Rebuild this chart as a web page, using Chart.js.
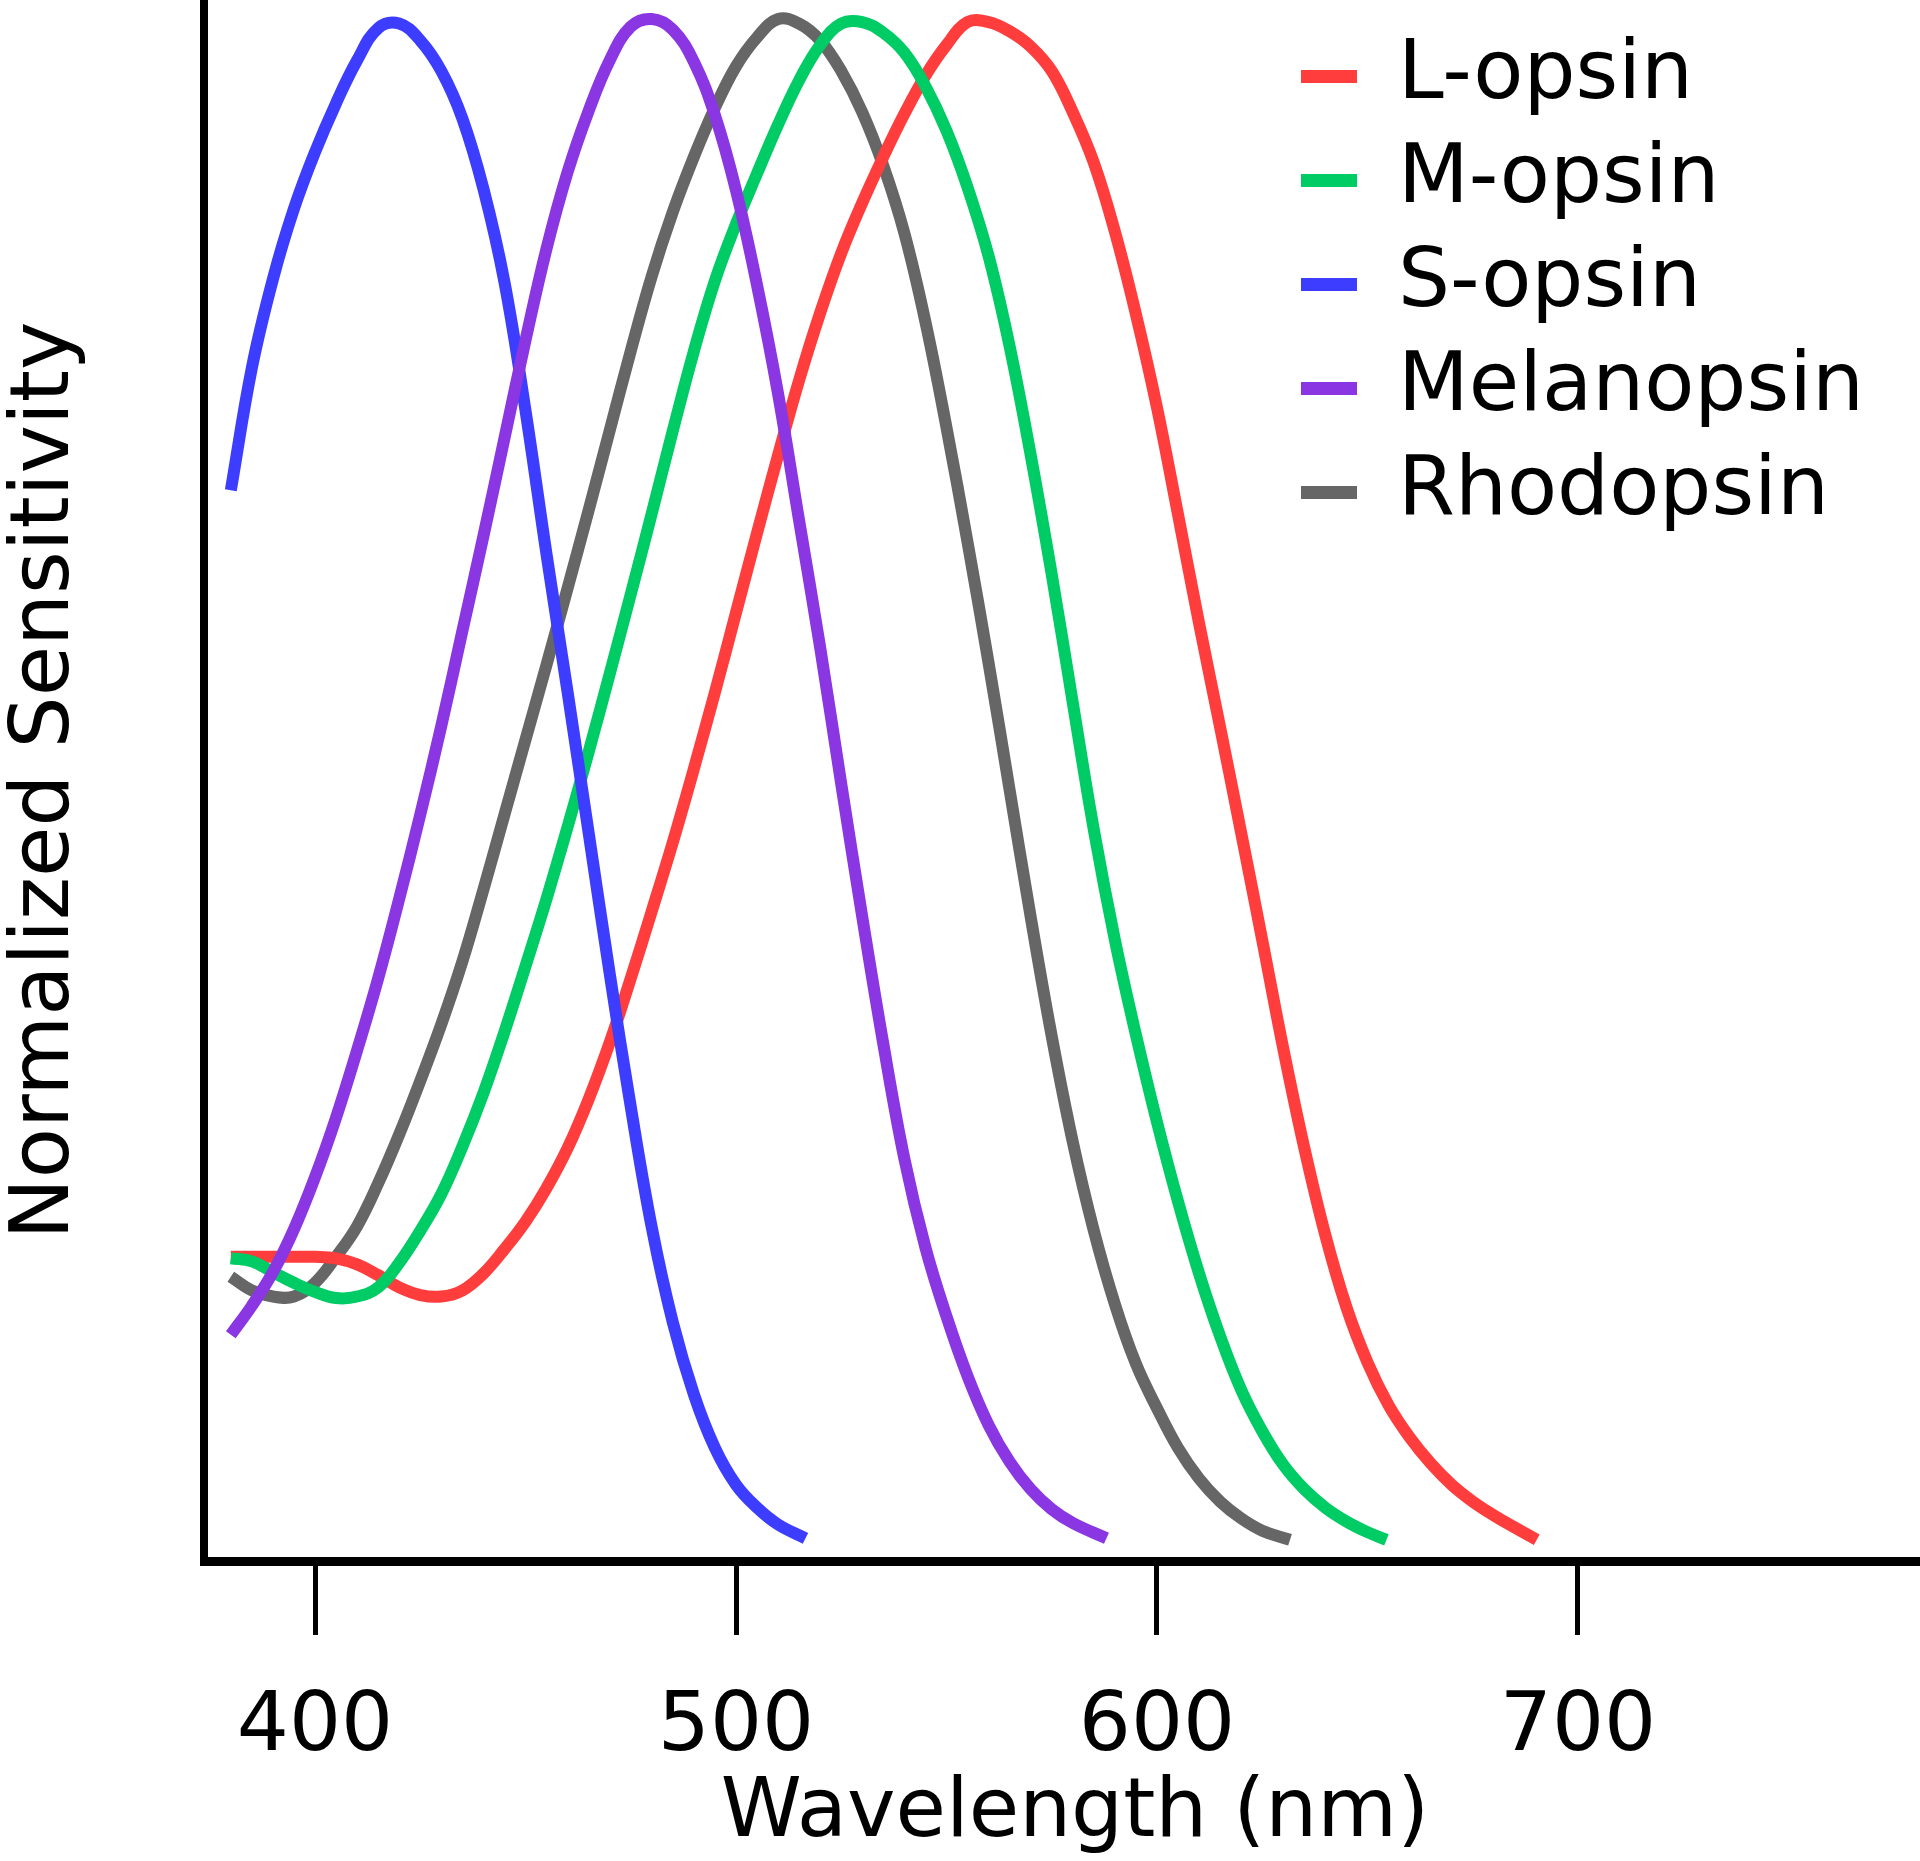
<!DOCTYPE html>
<html><head><meta charset="utf-8">
<style>html,body{margin:0;padding:0;background:#fff;}canvas{display:block;}</style>
<script src="https://cdn.jsdelivr.net/npm/chart.js"></script>
</head><body>
<canvas id="c" width="1920" height="1861" style="width:1920px;height:1861px"></canvas>
<script>
// ---- data ----
const X_TICKS = [400, 500, 600, 700];
const X_TITLE = 'Wavelength (nm)';
const Y_TITLE = 'Normalized Sensitivity';
const SERIES_NAMES = ['L-opsin', 'M-opsin', 'S-opsin', 'Melanopsin', 'Rhodopsin'];

const L_WL  = [380, 385, 390, 395, 400, 405, 410, 415, 420, 425, 430, 435, 440, 445, 450, 455, 460, 465, 470, 475, 480, 485, 490, 495, 500, 505, 510, 515, 520, 525, 530, 535, 540, 545, 550, 555, 560, 565, 570, 575, 580, 585, 590, 595, 600, 605, 610, 615, 620, 625, 630, 635, 640, 645, 650, 655, 660, 665, 670, 675, 680, 685, 690.2];
const L_VAL = [0.191, 0.191, 0.191, 0.191, 0.191, 0.190, 0.186, 0.179, 0.171, 0.166, 0.165, 0.169, 0.180, 0.196, 0.214, 0.236, 0.262, 0.294, 0.331, 0.373, 0.417, 0.462, 0.510, 0.560, 0.612, 0.664, 0.715, 0.764, 0.808, 0.847, 0.880, 0.910, 0.938, 0.963, 0.983, 0.998, 0.998, 0.992, 0.982, 0.966, 0.939, 0.906, 0.861, 0.807, 0.746, 0.676, 0.605, 0.537, 0.468, 0.398, 0.327, 0.262, 0.205, 0.158, 0.122, 0.094, 0.073, 0.056, 0.042, 0.031, 0.022, 0.014, 0.006];

const M_WL  = [380, 385, 390, 395, 400, 405, 410, 415, 420, 425, 430, 435, 440, 445, 450, 455, 460, 465, 470, 475, 480, 485, 490, 495, 500, 505, 510, 515, 520, 525, 530, 535, 540, 545, 550, 555, 560, 565, 570, 575, 580, 585, 590, 595, 600, 605, 610, 615, 620, 625, 630, 635, 640, 645, 650, 654.5];
const M_VAL = [0.190, 0.188, 0.181, 0.174, 0.168, 0.164, 0.165, 0.171, 0.187, 0.208, 0.232, 0.263, 0.298, 0.338, 0.381, 0.425, 0.472, 0.521, 0.572, 0.624, 0.677, 0.731, 0.783, 0.829, 0.866, 0.899, 0.931, 0.960, 0.983, 0.997, 0.998, 0.991, 0.978, 0.956, 0.927, 0.890, 0.845, 0.786, 0.715, 0.637, 0.553, 0.470, 0.398, 0.336, 0.279, 0.227, 0.180, 0.139, 0.104, 0.077, 0.055, 0.039, 0.027, 0.018, 0.011, 0.006];

const S_WL  = [380, 385, 390, 395, 400, 405, 410, 415, 420, 425, 430, 435, 440, 445, 450, 455, 460, 465, 470, 475, 480, 485, 490, 495, 500, 505, 510, 516.5];
const S_VAL = [0.692, 0.772, 0.830, 0.876, 0.913, 0.945, 0.973, 0.994, 0.997, 0.986, 0.966, 0.935, 0.889, 0.828, 0.744, 0.650, 0.560, 0.468, 0.376, 0.289, 0.210, 0.148, 0.101, 0.066, 0.042, 0.027, 0.016, 0.007];

const MEL_WL  = [380, 385, 390, 395, 400, 405, 410, 415, 420, 425, 430, 435, 440, 445, 450, 455, 460, 465, 470, 475, 480, 485, 490, 495, 500, 505, 510, 515, 520, 525, 530, 535, 540, 545, 550, 555, 560, 565, 570, 575, 580, 588];
const MEL_VAL = [0.140, 0.159, 0.181, 0.209, 0.243, 0.282, 0.326, 0.373, 0.425, 0.480, 0.538, 0.600, 0.662, 0.726, 0.790, 0.850, 0.900, 0.940, 0.973, 0.995, 1.000, 0.993, 0.972, 0.937, 0.888, 0.826, 0.755, 0.672, 0.589, 0.500, 0.413, 0.330, 0.255, 0.197, 0.152, 0.113, 0.081, 0.057, 0.039, 0.026, 0.017, 0.007];

const RHO_WL  = [380, 385, 390, 395, 400, 405, 410, 415, 420, 425, 430, 435, 440, 445, 450, 455, 460, 465, 470, 475, 480, 485, 490, 495, 500, 505, 510, 515, 520, 525, 530, 535, 540, 545, 550, 555, 560, 565, 570, 575, 580, 585, 590, 595, 600, 605, 610, 615, 620, 625, 631.6];
const RHO_VAL = [0.178, 0.169, 0.165, 0.165, 0.174, 0.191, 0.211, 0.239, 0.271, 0.306, 0.343, 0.384, 0.431, 0.480, 0.529, 0.578, 0.628, 0.679, 0.731, 0.783, 0.832, 0.874, 0.910, 0.942, 0.969, 0.988, 1.000, 0.997, 0.986, 0.966, 0.939, 0.904, 0.860, 0.802, 0.733, 0.658, 0.579, 0.496, 0.413, 0.335, 0.266, 0.208, 0.160, 0.121, 0.092, 0.066, 0.046, 0.031, 0.020, 0.012, 0.006];

// ---- styles ----
const SERIES_COLORS = ['#ff3d3d', '#00cc66', '#3d3dff', '#8b36e3', '#666666'];
const SERIES_ORDER = [3, 2, 1, 0, 4]; // drawing stack (lower = on top)
const FONT_SIZE = 82;

const toPoints = (wl, val) => wl.map((x, i) => ({ x: x, y: val[i] }));
const SERIES_DATA = [toPoints(L_WL, L_VAL), toPoints(M_WL, M_VAL), toPoints(S_WL, S_VAL), toPoints(MEL_WL, MEL_VAL), toPoints(RHO_WL, RHO_VAL)];

Chart.defaults.font.family = "'DejaVu Sans', sans-serif";
Chart.defaults.color = '#000';

const layoutTweaks = {
  id: 'layoutTweaks',
  afterLayout(chart) {
    // place the legend inside the plot at the upper right
    const lg = chart.legend;
    if (lg) {
      const pad = lg.options.labels.padding;
      lg.left = 1301 - pad;
      lg.top = 35.5 - pad;
      lg.right = 1920;
      lg.bottom = chart.chartArea.bottom;
      lg.width = lg.right - lg.left;
      lg.height = lg.bottom - lg.top;
    }
    // centre the x-axis title a little further right, as in the reference
    const xs = chart.scales.x;
    if (xs) { xs.right = xs.right + 30; }
  }
};

new Chart(document.getElementById('c'), {
  type: 'line',
  data: {
    datasets: SERIES_NAMES.map((name, i) => ({
      label: name,
      data: SERIES_DATA[i],
      borderColor: SERIES_COLORS[i],
      backgroundColor: SERIES_COLORS[i],
      borderWidth: 12,
      pointRadius: 0,
      fill: false,
      tension: 0.4,
      order: SERIES_ORDER[i]
    }))
  },
  options: {
    responsive: false,
    animation: false,
    devicePixelRatio: 1,
    layout: { padding: { left: 0, right: 4, top: 0, bottom: 0 } },
    plugins: {
      tooltip: { enabled: false },
      legend: {
        display: true,
        position: 'chartArea',
        align: 'start',
        labels: {
          boxWidth: 56,
          boxHeight: 13,
          padding: 22,
          color: '#000',
          font: { size: FONT_SIZE },
          generateLabels: (chart) => chart.data.datasets.map((ds, i) => ({
            text: ds.label,
            fillStyle: ds.borderColor,
            strokeStyle: ds.borderColor,
            lineWidth: 0,
            hidden: false,
            datasetIndex: i,
            fontColor: '#000'
          }))
        }
      }
    },
    scales: {
      x: {
        type: 'linear',
        min: 373.63,
        max: 780.29,
        afterBuildTicks: (s) => { s.ticks = X_TICKS.map(v => ({ value: v })); },
        afterFit: (s) => { s.height = 300; },
        ticks: { autoSkip: false, maxRotation: 0, minRotation: 0, padding: 45, color: '#000', font: { size: FONT_SIZE } },
        grid: { display: true, drawOnChartArea: false, drawTicks: true, tickLength: 74, tickWidth: 5, tickColor: '#000', color: '#000' },
        border: { display: true, color: '#000', width: 9 },
        title: { display: true, text: X_TITLE, color: '#000', font: { size: FONT_SIZE, lineHeight: 1.1 }, padding: { top: 0, bottom: 1 } }
      },
      y: {
        type: 'linear',
        min: -0.007843,
        max: 1.012418,
        afterFit: (s) => { s.width = 204; },
        ticks: { display: false },
        grid: { display: false, drawTicks: false },
        border: { display: true, color: '#000', width: 8 },
        title: { display: true, text: Y_TITLE, color: '#000', font: { size: FONT_SIZE, lineHeight: 0.9 }, padding: { top: 10, bottom: 0 } }
      }
    }
  },
  plugins: [layoutTweaks]
});
</script>
</body></html>
